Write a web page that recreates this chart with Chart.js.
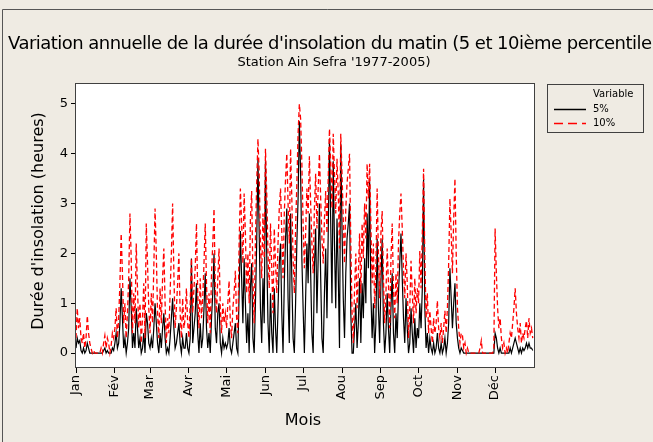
<!DOCTYPE html>
<html><head><meta charset="utf-8">
<script src="https://cdn.jsdelivr.net/npm/chart.js@4.4.1/dist/chart.umd.min.js"></script>
<style>html,body{margin:0;padding:0;background:#EFEBE3;}canvas{display:block;}</style>
</head><body>
<canvas id="c" width="653" height="442"></canvas>
<script>
// Month tick positions (day of year) and labels
const monthStarts = [0,31,59,90,120,151,181,212,243,273,304,334];
const monthLabels = ['Jan','Fév','Mar','Avr','Mai','Jun','Jul','Aou','Sep','Oct','Nov','Déc'];
const yTicks = [0,1,2,3,4,5];
const seriesNames = ['5%','10%'];

// 5th percentile (heures), day by day
const p5 = [
 0.1,0.3,0.2,0.25,0.05,0,0.1,0,0.05,0.2,0.1,0,0,0,0,0,0,0,0,0,0,0,0.05,0.1,0,0.05,0,0,0,0.1,0.05,
 0.2,0.4,0.1,0.2,0.6,1.3,0.7,0.1,0.3,0,0.2,0.5,1.5,0.9,0.1,0.4,0.1,0.9,0.5,0.1,0.3,0,0.1,0.4,0,0.8,0.6,0.2,
 0.1,0.3,0.1,0.5,1.0,0.6,0.2,0,0.4,0.1,0.5,0.8,0.3,0,0.1,0,0.3,0.7,1.1,0.5,0.1,0.2,0.4,0.6,0.2,0,0.3,0.1,0.1,0.4,0.1,
 0,0.3,1.9,0.2,0.5,0.8,1.4,0.4,0,0.6,0.1,0.3,0.9,1.6,0.5,0.1,0.4,0,0.7,1.2,2.0,0.5,0.2,0.8,1.0,0.2,0,0.3,0.1,0.2,
 0.1,0.2,0.5,0.1,0,0.2,0.4,0.6,0.1,0,1.2,2.45,1.5,0.6,1.9,1.0,0.2,0.8,0,1.3,1.8,0.3,0,1.0,2.2,3.9,2.4,0.9,0.2,1.5,0.6,
 3.85,2.0,0.6,0,1.2,0.4,0,1.3,0.5,0,0.9,1.8,2.2,0.8,0,1.4,2.3,2.9,1.1,0.2,2.8,1.5,0.3,0,1.0,2.2,3.1,4.65,3.6,1.9,
 0.9,0,1.1,2.2,1.4,2.8,1.6,0.4,0,1.7,2.5,0.8,1.9,3.0,1.5,0.3,0,1.2,2.1,0.7,2.4,4.3,2.6,1.0,3.85,2.2,0.9,2.7,1.6,0.1,4.2,
 2.5,1.1,0.3,1.6,2.3,2.6,3.0,0.8,0,0,0.5,1.0,0.1,0.6,1.5,0.2,1.4,0.7,1.9,1.0,2.8,1.7,3.45,1.2,0.3,1.0,0,0.6,2.3,0.9,0.2,
 1.4,2.3,0.6,0,0.4,1.2,0.5,0,0.9,1.6,0.4,0,0.8,0.3,1.2,1.8,2.4,1.5,0.7,0.2,1.1,0.5,0,0.2,0.9,0.4,0,0.7,0.1,0.5,
 0.3,1.0,0.5,1.3,3.5,0.9,0.1,0.4,0,0.3,0.1,0,0.2,0,0.1,0.4,0.1,0,0.2,0,0.1,0.3,0,0.2,0.6,1.7,1.1,0.5,1.0,1.4,0.6,
 0.3,0.1,0,0.1,0.05,0,0,0,0,0,0,0,0,0,0,0,0,0,0,0,0,0,0,0,0,0,0,0,0,0,
 0.4,0.3,0.1,0,0.1,0,0,0,0,0,0,0,0.1,0,0.1,0.2,0.3,0.2,0.1,0,0.1,0,0.1,0.05,0.1,0.2,0.1,0.2,0.1,0.1,0.05
];

// 10th percentile (heures), day by day
const p10 = [
 0.3,0.9,0.5,0.7,0.3,0.2,0.4,0.1,0.3,0.75,0.4,0.2,0.1,0,0.05,0,0,0,0,0,0.1,0,0.2,0.35,0.1,0.3,0.2,0,0.15,0.4,0.3,
 0.5,0.9,0.3,0.7,1.4,2.4,1.6,0.6,1.0,0.3,0.8,1.5,2.8,1.9,0.4,1.2,0.6,2.2,1.3,0.5,1.0,0.2,0.7,1.4,0.3,2.6,1.8,0.9,
 0.4,1.2,0.6,1.7,2.9,2.0,0.8,0.3,1.3,0.6,1.5,2.1,1.0,0.2,0.7,0.4,1.2,2.0,3.0,1.6,0.5,0.9,1.4,2.0,0.8,0.3,1.1,0.5,0.7,1.3,0.6,
 0.3,1.0,1.9,0.8,1.3,1.7,2.6,1.2,0.5,1.5,0.7,1.1,1.8,2.6,1.4,0.6,1.2,0.4,1.6,2.2,2.9,1.3,0.8,1.5,2.1,0.9,0.4,1.0,0.6,0.8,
 0.5,1.0,1.45,0.6,0.3,0.9,1.2,1.65,0.7,0.4,2.2,3.3,2.6,1.8,3.2,2.4,1.2,2.0,1.0,2.7,3.25,1.5,0.6,2.3,3.4,4.3,3.6,2.2,1.5,2.8,1.9,
 4.1,3.2,2.0,1.3,2.6,1.7,0.8,2.5,1.8,1.2,2.2,2.9,3.3,2.4,1.5,2.8,3.5,4.0,3.0,2.2,4.1,3.1,1.9,1.2,2.5,3.4,4.4,5.0,4.7,3.8,
 2.6,1.7,2.4,3.3,2.8,3.95,3.0,2.2,1.6,2.9,3.6,2.5,3.3,4.0,3.1,2.3,1.8,2.7,3.25,2.4,3.5,4.5,3.8,2.9,4.4,3.6,2.8,3.9,3.2,2.1,4.4,
 3.6,2.7,1.8,2.9,3.4,3.7,4.0,2.2,0.8,0.2,1.3,2.0,0.9,1.6,2.4,1.2,2.6,1.9,3.0,2.3,3.8,3.1,3.8,2.6,1.4,2.2,0.9,1.7,3.3,2.0,1.1,
 2.4,2.85,1.5,0.6,1.2,2.1,1.4,0.5,1.9,2.6,1.3,0.7,1.6,1.0,2.2,2.8,3.2,2.5,1.7,1.1,2.0,1.4,0.3,0.9,1.85,1.2,0.6,1.5,0.8,1.3,
 1.0,2.05,1.3,2.4,3.7,1.9,0.7,1.2,0.4,0.85,0.5,0.2,0.7,0.4,0.6,1.05,0.5,0.3,0.6,0.2,0.5,0.85,0.4,0.9,1.8,3.1,2.4,1.6,2.7,3.5,2.0,
 0.9,0.5,0.2,0.4,0.35,0.1,0.2,0,0.1,0,0,0,0,0,0,0,0,0,0.1,0.25,0,0,0,0,0,0,0,0,0,0.1,
 2.5,1.6,0.9,0.5,0.7,0.3,0.1,0.2,0,0.1,0,0.2,0.4,0.3,0.6,0.9,1.3,0.8,0.5,0.3,0.6,0.2,0.4,0.3,0.5,0.65,0.3,0.7,0.4,0.5,0.3
];

const BG = '#EFEBE3';
const FONT = '"DejaVu Sans", Verdana, sans-serif';
const TITLE = "Variation annuelle de la durée d'insolation du matin (5 et 10ième percentile)";
const SUBTITLE = "Station Ain Sefra '1977-2005)";

function fitText(c, text, width) {
  c.letterSpacing = '0px';
  const w = c.measureText(text).width;
  const n = [...text].length;
  c.letterSpacing = ((width - w) / n).toFixed(3) + 'px';
}

const deco = {
  id: 'deco',
  beforeDraw(chart) {
    const c = chart.ctx, a = chart.chartArea;
    c.save();
    c.fillStyle = BG;
    c.fillRect(0, 0, chart.width, chart.height);
    c.strokeStyle = '#555';
    c.lineWidth = 1;
    c.beginPath();
    c.moveTo(2.5, chart.height); c.lineTo(2.5, 9.5); c.lineTo(chart.width, 9.5);
    c.stroke();
    c.fillStyle = '#FFFFFF';
    c.fillRect(a.left, a.top, a.right - a.left, a.bottom - a.top);
    c.restore();
  },
  afterDraw(chart) {
    const c = chart.ctx, a = chart.chartArea;
    c.save();
    c.strokeStyle = '#404040';
    c.lineWidth = 1;
    c.strokeRect(Math.round(a.left) - 0.5, Math.round(a.top) + 0.5, Math.round(a.right - a.left) + 1, Math.round(a.bottom - a.top) - 1);
    c.fillStyle = '#000';
    c.textBaseline = 'middle';
    c.textAlign = 'left';
    c.font = '18px ' + FONT;
    fitText(c, TITLE, 650);
    c.fillText(TITLE, 8, 44);
    c.letterSpacing = '0px';
    c.textAlign = 'center';
    c.font = '13px ' + FONT;
    c.fillText(SUBTITLE, 334, 63);
    c.font = '16px ' + FONT;
    c.fillText('Mois', 303, 421);
    c.save();
    c.translate(39, 221);
    c.rotate(-Math.PI / 2);
    c.fillText("Durée d'insolation (heures)", 0, 0);
    c.restore();
    // legend
    c.strokeStyle = '#404040';
    c.lineWidth = 1;
    c.strokeRect(547.5, 84.5, 96, 48);
    c.font = '10px ' + FONT;
    c.textAlign = 'left';
    c.fillText('Variable', 593, 94);
    c.fillText(seriesNames[0], 593, 109);
    c.fillText(seriesNames[1], 593, 123);
    c.lineWidth = 1.5;
    c.strokeStyle = '#000000';
    c.setLineDash([]);
    c.beginPath(); c.moveTo(554, 109.5); c.lineTo(586, 109.5); c.stroke();
    c.strokeStyle = '#FF0000';
    c.setLineDash([9, 5]);
    c.beginPath(); c.moveTo(554, 123.5); c.lineTo(586, 123.5); c.stroke();
    c.restore();
  }
};

new Chart(document.getElementById('c'), {
  type: 'line',
  data: {
    datasets: [
      { label: seriesNames[0], data: p5.map((v, i) => ({ x: i, y: v })), borderColor: '#000000', borderWidth: 1.2, pointRadius: 0, tension: 0, order: 2 },
      { label: seriesNames[1], data: p10.map((v, i) => ({ x: i, y: v })), borderColor: '#FF0000', borderWidth: 1.3, borderDash: [5, 3], pointRadius: 0, tension: 0, order: 1 }
    ]
  },
  options: {
    responsive: false,
    animation: false,
    layout: { padding: { left: 0, top: 83, right: 119, bottom: 0 } },
    plugins: { legend: { display: false }, tooltip: { enabled: false } },
    scales: {
      x: {
        type: 'linear', min: 0, max: 365,
        afterBuildTicks: s => { s.ticks = monthStarts.map(v => ({ value: v })); },
        afterFit: s => { s.height = 74; },
        ticks: {
          autoSkip: false, maxRotation: 90, minRotation: 90, padding: 2, color: '#000',
          font: { family: FONT, size: 13 },
          callback: (v) => monthLabels[monthStarts.indexOf(v)]
        },
        grid: { drawOnChartArea: false, drawTicks: true, tickLength: 5, tickColor: '#000' },
        border: { display: false }
      },
      y: {
        min: -0.3, max: 5.42,
        afterBuildTicks: s => { s.ticks = yTicks.map(v => ({ value: v })); },
        afterFit: s => { s.width = 76; },
        ticks: { padding: 3, color: '#000', font: { family: FONT, size: 13 } },
        grid: { drawOnChartArea: false, drawTicks: true, tickLength: 5, tickColor: '#000' },
        border: { display: false }
      }
    }
  },
  plugins: [deco]
});
</script>
</body></html>
